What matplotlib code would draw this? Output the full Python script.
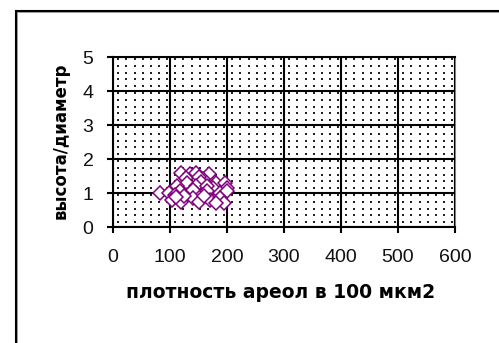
import numpy as np
import matplotlib
matplotlib.use("Agg")
import matplotlib.pyplot as plt
from matplotlib.patches import Rectangle

# areole density (per 100 um2) vs height/diameter ratio
density = [120, 135, 145, 168, 128, 158, 150,
           130, 155, 180, 197, 112, 145, 175, 200, 165,
           82, 98, 118, 130, 145, 165, 188, 200, 108, 140,
           103, 120, 140, 150, 170, 188, 195, 125, 160, 180, 110]
ratio = [1.58, 1.55, 1.60, 1.55, 1.45, 1.42, 1.48,
         1.30, 1.32, 1.30, 1.28, 1.20, 1.22, 1.15, 1.15, 1.20,
         1.00, 1.00, 1.05, 0.95, 1.00, 1.05, 1.00, 1.05, 0.95, 1.08,
         0.78, 0.74, 0.85, 0.74, 0.80, 0.85, 0.70, 0.90, 0.90, 0.72, 0.88]

x_ticks = [0, 100, 200, 300, 400, 500, 600]
y_ticks = [0, 1, 2, 3, 4, 5]
x_label = "плотность ареол в 100 мкм2"
y_label = "высота/диаметр"

W, H = 499, 343
fig = plt.figure(figsize=(W / 100, H / 100), dpi=100)
ax = fig.add_axes([113 / W, 1 - 227 / H, (455 - 113) / W, (227 - 57) / H])

# dotted fill of the plot area
dx = np.arange(9.3, 600, 100 / 7)
dy = np.arange(0.14, 5, 0.2)
gx, gy = np.meshgrid(dx, dy)
ax.scatter(gx.ravel(), gy.ravel(), s=1.6, marker="s", color="#222222",
           linewidths=0, zorder=1)

ax.plot(density, ratio, linestyle="none", marker="D", markersize=7,
        markerfacecolor="white", markeredgecolor="#800080",
        markeredgewidth=1.1, zorder=3)

ax.set_xlim(0, 600)
ax.set_ylim(0, 5)
ax.set_xticks(x_ticks)
ax.set_yticks(y_ticks)
ax.grid(True, color="black", linewidth=1.5, zorder=2)
ax.set_axisbelow(False)

for side in ("left", "bottom", "top"):
    ax.spines[side].set_color("black")
    ax.spines[side].set_linewidth(1.5)
ax.spines["right"].set_color("#808080")
ax.spines["right"].set_linewidth(1.5)

ax.tick_params(direction="out", length=4, width=1.5, color="black",
               labelsize=14, labelcolor="#111111")
ax.tick_params(axis="x", pad=12)
ax.tick_params(axis="y", pad=10)
for lab in ax.get_xticklabels() + ax.get_yticklabels():
    lab.set_fontfamily("Liberation Sans")

fig.text(281 / W, 1 - 293 / H, x_label, ha="center", va="center",
         fontsize=13.5, fontweight="heavy", family="DejaVu Sans")
fig.text(61 / W, 1 - 141 / H, y_label, ha="center", va="center",
         rotation=90, fontsize=12, fontweight="heavy", family="DejaVu Sans")

# chart area border
fig.add_artist(Rectangle((15.5 / W, -0.1), 1.2, 1 - 10.5 / H + 0.1,
                         transform=fig.transFigure, fill=False,
                         edgecolor="black", linewidth=1.5, clip_on=False))
fig.add_artist(Rectangle((17 / W, -0.1), 1.2, 1 - 12 / H + 0.1,
                         transform=fig.transFigure, fill=False,
                         edgecolor="#999999", linewidth=0.7, clip_on=False))

fig.savefig("out.png", dpi=100)
